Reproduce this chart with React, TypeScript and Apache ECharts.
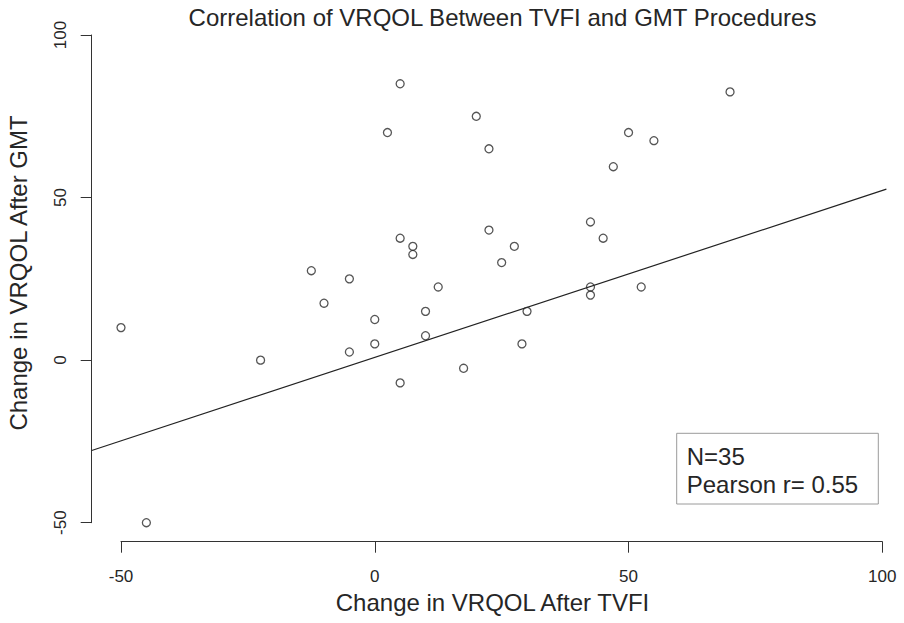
import React, { useEffect, useRef } from 'react';
import * as echarts from 'echarts';

// change in VRQOL after TVFI (x) and after GMT (y), one pair per patient
const tvfiChange = [-50, -45, -22.5, -12.5, -10, -5, -5, 0, 0, 5, 2.5, 5, 5, 7.5, 7.5, 10, 10, 12.5, 17.5, 20, 22.5, 22.5, 25, 27.5, 29, 30, 42.5, 42.5, 42.5, 45, 47, 50, 52.5, 55, 70];
const gmtChange = [10, -50, 0, 27.5, 17.5, 25, 2.5, 12.5, 5, 85, 70, 37.5, -7, 35, 32.5, 15, 7.5, 22.5, -2.5, 75, 65, 40, 30, 35, 5, 15, 42.5, 22.5, 20, 37.5, 59.5, 70, 22.5, 67.5, 82.5];

// fitted line as drawn, across the whole plot region
const fitX = [-55.8, 100.8];
const fitY = [-27.8, 52.6];

const axisTicks = [-50, 0, 50, 100];
const legendLines = ['N=35', 'Pearson r= 0.55'];

const FONT = '"Liberation Sans", Arial, Helvetica, sans-serif';
const INK = '#262626';

export default function App() {
  const ref = useRef<HTMLDivElement>(null);
  useEffect(() => {
    if (!ref.current) return;
    const chart = echarts.init(ref.current, null, { renderer: 'svg' });
    const points = tvfiChange.map((x, i) => [x, gmtChange[i]]);
    const fit = fitX.map((x, i) => [x, fitY[i]]);
    const lo = axisTicks[0], hi = axisTicks[axisTicks.length - 1];
    const axisBase = {
      type: 'value', min: lo, max: hi, interval: 50,
      axisLine: { show: true, onZero: false, lineStyle: { color: '#333', width: 1 } },
      axisTick: { show: true, inside: false, length: 11, lineStyle: { color: '#333', width: 1 } },
      splitLine: { show: false },
    };
    const hidden = { show: false, splitLine: { show: false } };
    chart.setOption({
      animation: false,
      backgroundColor: '#fff',
      textStyle: { fontFamily: FONT },
      grid: [
        // plot region (R's 4% padding on x), carries the fitted line
        { left: 91.7, right: 17.6, top: 35, bottom: 100.3 },
        // axis frame from first to last tick
        { left: 121, right: 21.7, top: 35, bottom: 100.3 },
      ],
      xAxis: [
        { ...hidden, type: 'value', gridIndex: 0, min: fitX[0], max: fitX[1] },
        {
          ...axisBase, gridIndex: 1, offset: 19,
          axisLabel: { color: INK, fontSize: 17, fontFamily: FONT, margin: 26 },
        },
      ],
      yAxis: [
        { ...hidden, type: 'value', gridIndex: 0, min: lo, max: hi },
        {
          ...axisBase, gridIndex: 1, offset: 29.3,
          axisLabel: { color: INK, fontSize: 17, fontFamily: FONT, margin: 23, rotate: 90 },
        },
      ],
      series: [
        {
          type: 'line', xAxisIndex: 0, yAxisIndex: 0, data: fit, clip: false, symbol: 'none',
          lineStyle: { color: '#222', width: 1.2 }, z: 1,
        },
        {
          type: 'scatter', xAxisIndex: 1, yAxisIndex: 1, data: points, symbol: 'circle', symbolSize: 8, clip: false,
          itemStyle: { color: 'rgba(255,255,255,0)', borderColor: '#2a2a2a', borderWidth: 1.3 }, z: 2,
        },
      ],
      graphic: [
        {
          type: 'text', x: 502.5, y: 17.6,
          style: { text: 'Correlation of VRQOL Between TVFI and GMT Procedures', fill: INK, font: `24px ${FONT}`, align: 'center', verticalAlign: 'middle' },
        },
        {
          type: 'text', x: 492.5, y: 602.5,
          style: { text: 'Change in VRQOL After TVFI', fill: INK, font: `24px ${FONT}`, align: 'center', verticalAlign: 'middle' },
        },
        {
          type: 'text', x: 18, y: 273, rotation: Math.PI / 2,
          style: { text: 'Change in VRQOL After GMT', fill: INK, font: `24px ${FONT}`, align: 'center', verticalAlign: 'middle' },
        },
        {
          type: 'rect', shape: { x: 676.7, y: 433.3, width: 201.6, height: 70.7 },
          style: { fill: '#fff', stroke: '#9a9a9a', lineWidth: 1 },
        },
        ...legendLines.map((t, i) => ({
          type: 'text', x: 686.7, y: 456 + i * 28.5,
          style: { text: t, fill: INK, font: `24px ${FONT}`, align: 'left', verticalAlign: 'middle' },
        })),
      ],
    });
    return () => { chart.dispose(); };
  }, []);
  return <div ref={ref} style={{ position: 'fixed', left: 0, top: 0, width: 904, height: 623 }} />;
}
